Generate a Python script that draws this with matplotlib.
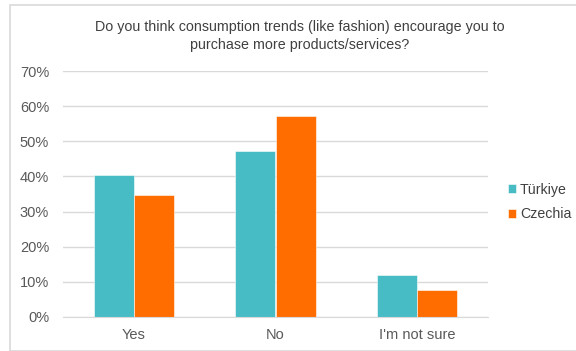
import matplotlib
matplotlib.use("Agg")
import matplotlib.pyplot as plt
import numpy as np
from matplotlib.patches import Rectangle
from matplotlib.ticker import PercentFormatter

categories = ["Yes", "No", "I'm not sure"]
turkiye = [40.4, 47.3, 12.0]
czechia = [34.8, 57.3, 7.7]
series_names = ["Türkiye", "Czechia"]
title = "Do you think consumption trends (like fashion) encourage you to\npurchase more products/services?"

plt.rcParams['font.family'] = ['Liberation Sans', 'DejaVu Sans']
fig = plt.figure(figsize=(5.76, 3.51), dpi=100)
fig.patches.append(Rectangle((10/576, 0), 1.0, 1 - 5/351, transform=fig.transFigure,
                             fill=False, edgecolor='#d9d9d9', linewidth=1.2))
ax = fig.add_axes([63/576, 1 - 317/351, (488 - 63)/576, (317 - 71)/351])

x = np.arange(len(categories))
w = 0.283
ax.bar(x - w/2, turkiye, w, color='#47BCC5', label=series_names[0], edgecolor='white', linewidth=0.4)
ax.bar(x + w/2, czechia, w, color='#FF6D01', label=series_names[1], edgecolor='white', linewidth=0.4)

ax.set_ylim(0, 70)
ax.set_xlim(-0.5, 2.5)
ax.set_yticks(np.arange(0, 71, 10))
ax.yaxis.set_major_formatter(PercentFormatter(decimals=0))
ax.set_xticks(x)
ax.set_xticklabels(categories)
ax.grid(axis='y', color='#d9d9d9', linewidth=1)
ax.set_axisbelow(True)
for s in ['top', 'right', 'left']:
    ax.spines[s].set_visible(False)
ax.spines['bottom'].set_color('#d9d9d9')
ax.tick_params(length=0, labelsize=10.5, colors='#595959')
ax.tick_params(axis='y', pad=10)
ax.tick_params(axis='x', pad=8)

fig.text(300/576, 1 - 36/351, title, ha='center', va='center', fontsize=10.3,
         color='#404040', linespacing=1.3)

leg = ax.legend(loc='center left', bbox_to_anchor=(1 + 20/425, (317 - 202) / 246), frameon=False,
                borderpad=0, borderaxespad=0,
                fontsize=10.2, handlelength=0.55, handleheight=0.55, handletextpad=0.3,
                labelspacing=0.75)
for t in leg.get_texts():
    t.set_color('#404040')

fig.savefig("out.png", dpi=100)
